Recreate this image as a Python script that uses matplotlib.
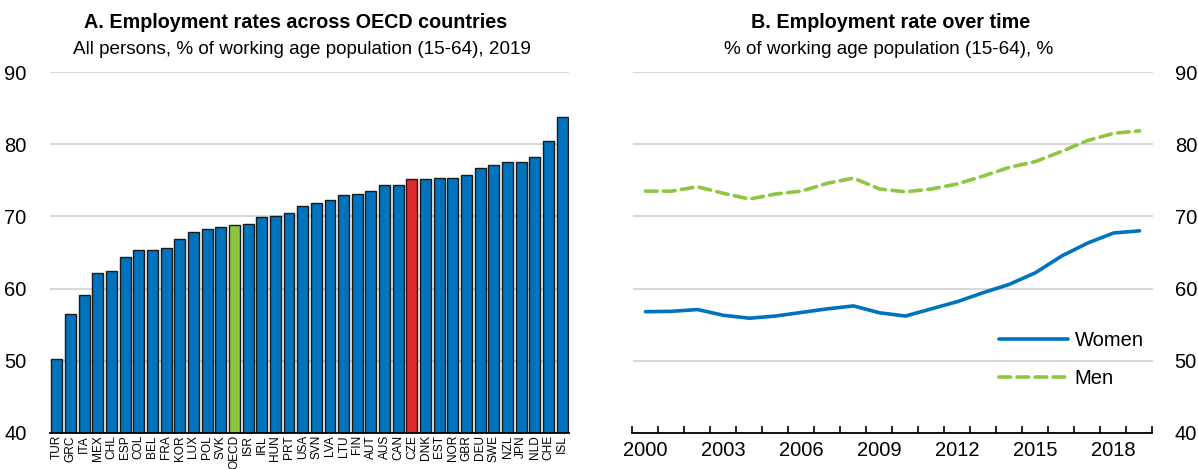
import matplotlib
matplotlib.use("Agg")
import matplotlib.pyplot as plt

plt.rcParams['font.family'] = ['Liberation Sans Narrow', 'Liberation Sans', 'DejaVu Sans']

# ---------------- data ----------------
countries = ["TUR", "GRC", "ITA", "MEX", "CHL", "ESP", "COL", "BEL", "FRA", "KOR",
             "LUX", "POL", "SVK", "OECD", "ISR", "IRL", "HUN", "PRT", "USA", "SVN",
             "LVA", "LTU", "FIN", "AUT", "AUS", "CAN", "CZE", "DNK", "EST", "NOR",
             "GBR", "DEU", "SWE", "NZL", "JPN", "NLD", "CHE", "ISL"]
emp_rates = [50.3, 56.5, 59.1, 62.2, 62.4, 64.4, 65.3, 65.3, 65.6, 66.9,
             67.9, 68.3, 68.5, 68.8, 69.0, 69.9, 70.1, 70.5, 71.4, 71.9,
             72.3, 73.0, 73.1, 73.5, 74.35, 74.4, 75.2, 75.2, 75.25, 75.35,
             75.7, 76.75, 77.1, 77.5, 77.6, 78.2, 80.5, 83.8]

years = list(range(2000, 2020))
women = [56.8, 56.85, 57.1, 56.3, 55.9, 56.2, 56.7, 57.2, 57.6, 56.65,
         56.2, 57.2, 58.2, 59.45, 60.6, 62.2, 64.5, 66.3, 67.7, 68.0]
men = [73.5, 73.5, 74.1, 73.2, 72.4, 73.1, 73.5, 74.6, 75.3, 73.8,
       73.4, 73.8, 74.5, 75.6, 76.8, 77.6, 79.0, 80.5, 81.5, 81.85]

yticks = [40, 50, 60, 70, 80, 90]
label_years = [2000, 2003, 2006, 2009, 2012, 2015, 2018]

BLUE = '#0073BE'
GREEN = '#8DC63F'
RED = '#DE2A2E'
GRID = '#D9D9D9'

W, H = 1198, 469
fig = plt.figure(figsize=(W / 100, H / 100), dpi=100)

def fx(px):
    return px / W

def fy(py):
    return 1 - py / H

ax_top, ax_bot = 72, 433
axA = fig.add_axes([fx(50), fy(ax_bot), fx(569) - fx(50), fy(ax_top) - fy(ax_bot)])
axB = fig.add_axes([fx(632.5), fy(ax_bot), fx(1152.5) - fx(632.5), fy(ax_top) - fy(ax_bot)])

# ---------------- panel A ----------------
colors = []
for c in countries:
    if c == "OECD":
        colors.append(GREEN)
    elif c == "CZE":
        colors.append(RED)
    else:
        colors.append(BLUE)
xpos = list(range(len(countries)))
axA.bar(xpos, emp_rates, width=0.8, color=colors, edgecolor='#1a1a1a',
        linewidth=1.0, zorder=3)
axA.set_xlim(-0.5, len(countries) - 0.5)
axA.set_ylim(40, 90)
axA.set_yticks(yticks)
axA.set_yticklabels([str(t) for t in yticks])
axA.set_xticks(xpos)
axA.set_xticklabels(countries, rotation=90, fontsize=8.6)
axA.tick_params(axis='x', length=0, pad=1.5)
axA.tick_params(axis='y', length=0, pad=17, labelsize=14.5)
for sp in ['top', 'right', 'left']:
    axA.spines[sp].set_visible(False)
axA.spines['bottom'].set_color('black')
axA.spines['bottom'].set_linewidth(1.3)
axA.spines['bottom'].set_zorder(4)
for t in yticks[1:]:
    axA.axhline(t, color=GRID, linewidth=1.5, zorder=1)

# ---------------- panel B ----------------
axB.plot(years, women, color=BLUE, linewidth=2.6, solid_capstyle='round', zorder=3,
         label='Women')
axB.plot(years, men, color=GREEN, linewidth=2.6, linestyle=(0, (3.2, 1.8)),
         dash_capstyle='round', zorder=3, label='Men')
axB.set_xlim(1999.5, 2019.5)
axB.set_ylim(40, 90)
axB.yaxis.tick_right()
axB.set_yticks(yticks)
axB.set_yticklabels([str(t) for t in yticks])
axB.tick_params(axis='y', length=0, pad=16, labelsize=14.5)
axB.set_xticks([y - 0.5 for y in years] + [years[-1] + 0.5])
axB.set_xticklabels([])
axB.tick_params(axis='x', which='major', direction='in', length=5, width=1.2,
                color='black')
axB.set_xticks(label_years, minor=True)
axB.set_xticklabels([str(y) for y in label_years], minor=True)
axB.tick_params(axis='x', which='minor', length=0, pad=6, labelsize=14.5)
for sp in ['top', 'right', 'left']:
    axB.spines[sp].set_visible(False)
axB.spines['bottom'].set_color('black')
axB.spines['bottom'].set_linewidth(1.3)
for t in yticks[1:]:
    axB.axhline(t, color=GRID, linewidth=1.5, zorder=1)

leg = axB.legend(loc='upper left', bbox_to_anchor=(0.705, 0.282), frameon=False,
                 fontsize=14.5, handlelength=3.4, handletextpad=0.35,
                 labelspacing=0.95, borderpad=0, borderaxespad=0)

# ---------------- titles ----------------
cxA = (fx(50) + fx(569)) / 2
cxB = (fx(632.5) + fx(1152.5)) / 2
fig.text(cxA - 0.012, fy(22), "A. Employment rates across OECD countries",
         ha='center', va='center', fontsize=14.2, fontweight='bold')
fig.text(cxA - 0.006, fy(50), "All persons, % of working age population (15-64), 2019",
         ha='center', va='center', fontsize=13.6)
fig.text(cxB - 0.002, fy(22), "B. Employment rate over time",
         ha='center', va='center', fontsize=14.2, fontweight='bold')
fig.text(cxB - 0.003, fy(50), "% of working age population (15-64), %",
         ha='center', va='center', fontsize=13.6)

fig.savefig("out.png", dpi=100)
